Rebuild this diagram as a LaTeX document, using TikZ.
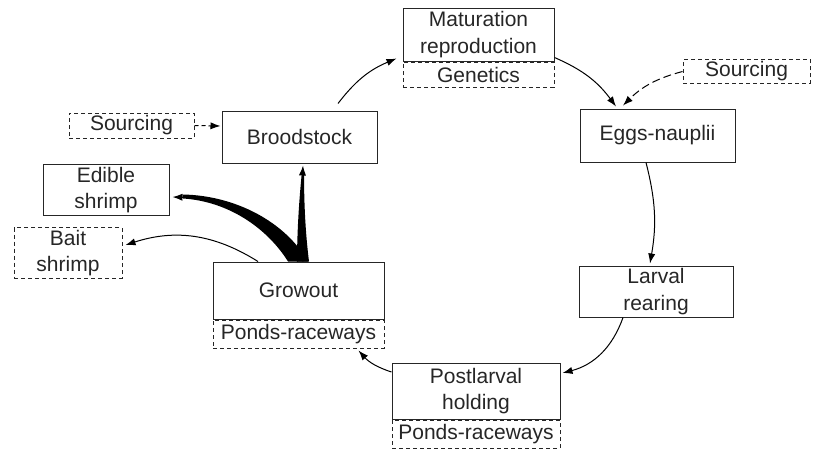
\documentclass[tikz,border=0pt]{standalone}
\usepackage{fontspec}
\setmainfont{Liberation Sans}
\usetikzlibrary{calc,arrows.meta,positioning}

\tikzset{
  stage/.style={draw=black!85, line width=0.5pt, inner sep=1pt, align=center,
        text=black!85, font=\fontsize{10.5}{13.3}\selectfont},
  extra/.style={stage, dash pattern=on 2pt off 1.5pt},
  arr/.style={-{Latex[length=5pt,width=3.6pt]}, line width=0.5pt},
}

\begin{document}
\begin{tikzpicture}[x=0.5pt, y=0.5pt]
  \useasboundingbox (0,0) rectangle (818,-450);
  % main cycle
  \node[stage, minimum width=75.5pt, minimum height=26.5pt] (mat) at (478.5,-34.5) {Maturation\\reproduction};
  \node[extra, minimum width=75.5pt, minimum height=12.5pt, below=0pt of mat] (gen) {Genetics};
  \node[stage, minimum width=77.5pt, minimum height=26.5pt] (eggs) at (657.5,-135.5) {Eggs-nauplii};
  \node[stage, minimum width=77pt, minimum height=25.5pt] (larval) at (656,-291.5) {Larval\\rearing};
  \node[stage, minimum width=84pt, minimum height=28pt] (post) at (476,-391) {Postlarval\\holding};
  \node[extra, minimum width=84pt, minimum height=14pt, below=0pt of post] (pondsP) {Ponds-raceways};
  \node[stage, minimum width=85.5pt, minimum height=28.5pt] (grow) at (298.5,-290.5) {Growout};
  \node[extra, minimum width=85.5pt, minimum height=14pt, below=0pt of grow] (pondsG) {Ponds-raceways};
  \node[stage, minimum width=77.5pt, minimum height=26pt] (brood) at (299.5,-137) {Broodstock};
  % inputs and products
  \node[extra, minimum width=63.5pt, minimum height=11.5pt] (srcR) at (746.5,-71.5) {Sourcing};
  \node[extra, minimum width=62.5pt, minimum height=12.5pt] (srcL) at (131.5,-125.5) {Sourcing};
  \node[stage, minimum width=63pt, minimum height=25pt] (edible) at (106,-190) {Edible\\shrimp};
  \node[extra, minimum width=54pt, minimum height=25pt] (bait) at (68,-253) {Bait\\shrimp};

  \draw[arr] ($(brood.north)+(38.5,7)$) to[bend left=15] ($(mat.south west)+(-6,3)$);
  \draw[arr] ($(mat.south east)+(0,4)$) to[bend left=15] ($(eggs.north)+(-41.5,2)$);
  \draw[arr, dash pattern=on 4pt off 2pt] (srcR.west) to[bend right=15] ($(eggs.north)+(-34.5,3)$);
  \draw[arr, dash pattern=on 2pt off 1.5pt] (srcL.east) -- ($(brood.west)+(-1,11)$);
  \draw[arr] ($(eggs.south)+(-11.5,0)$) to[bend left=12] ($(larval.north)+(-6,2)$);
  \draw[arr] ($(larval.south)+(-33,0)$) to[bend left=28] ($(post.east)+(2,18)$);
  \draw[arr] ($(post.west)+(0,19)$) to[bend left=15] ($(pondsG.south east)+(-26,-2)$);
  \draw[arr] ($(grow.north)+(-40.5,0)$) to[bend right=25] ($(bait.east)+(3,8)$);

  % tapered harvest arrows
  \begin{scope}[shift={(grow.north)}]
    \fill (9.5,0) .. controls (-13.5,40) and (-63.5,66) .. (-115.5,67)
      -- (-115.5,63) .. controls (-68.5,60) and (-30.5,32) .. (-10.5,0) -- cycle;
    \fill (-1.5,0) .. controls (-1.5,27) and (0.5,62) .. (3.5,90)
      -- (5.5,90) .. controls (5.5,62) and (6.5,32) .. (10.5,0) -- cycle;
  \end{scope}
  \draw[arr] ($(grow.north)+(-1,0)$) .. controls ($(grow.north)+(-22,36)$) and ($(grow.north)+(-66,63)$) .. ($(edible.east)+(3,-7)$);
  \draw[arr] ($(grow.north)+(4.5,0)$) to[bend left=3] ($(brood.south)+(3.5,-2)$);
\end{tikzpicture}
\end{document}
